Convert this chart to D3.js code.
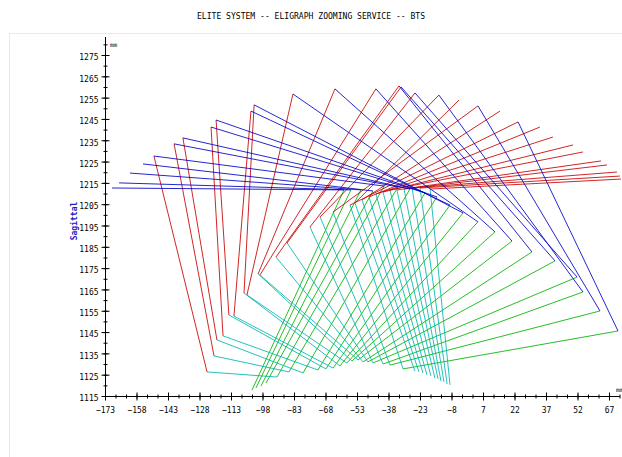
<!DOCTYPE html>
<html>
<head>
<meta charset="utf-8">
<script src="https://cdn.jsdelivr.net/npm/d3@7/dist/d3.min.js"></script>
<style>
  body { margin: 0; background: #fff; }
  text { font-family: 'DejaVu Sans Mono', monospace; }
</style>
</head>
<body>
<div id="chart"></div>
<script>
// marker positions per frame, in mm (x, sagittal y); null = marker lost in that frame
const markerA = [
  [-169.7, 1212.6], [-166.3, 1215.0], [-161.1, 1219.6], [-154.9, 1223.9],
  [-149.7, 1227.6], [-140.1, 1233.3], [-135.9, 1236.1], [-122.5, 1241.2],
  [-120.1, 1244.5], [-103.5, 1248.7], [-102.0, 1251.6], [-83.5, 1256.7],
  [-63.5, 1259.1], [-44.0, 1259.1], [-33.0, 1260.5], [-32.0, 1260.0],
  [-25.4, 1257.2], [-14.0, 1256.2], [4.6, 1251.1], [23.7, 1243.6],
  [-4.4, 1253.9], [15.1, 1248.7], [34.1, 1241.2], [40.3, 1236.5],
  [49.9, 1232.8], [54.6, 1229.5], [63.2, 1225.3], [66.0, 1223.4],
  [70.8, 1220.1], [72.2, 1218.2], [72.7, 1216.8],
];
const markerR = [
  null, null, null, null,
  [-124.4, 1126.3], [-121.1, 1133.8], [-119.7, 1141.3], [-116.8, 1143.2],
  [-114.0, 1153.0], [-111.6, 1152.5], [-106.8, 1163.3], [-105.4, 1162.4],
  [-100.1, 1172.3], [-99.2, 1171.8], [-91.6, 1180.2], [-86.3, 1186.8],
  [-75.4, 1194.3], [-70.6, 1199.0], [-64.4, 1201.3], [-56.3, 1204.6],
  [-54.0, 1205.6], [-50.6, 1207.0], [-47.3, 1208.4], [-44.0, 1209.8],
  [-40.6, 1210.7], [-37.3, 1211.7], [-34.0, 1211.7], [-30.6, 1212.1],
  [-26.8, 1212.6], [-23.0, 1212.6], [-18.2, 1212.1],
];
const markerZ = [
  [-59.2, 1211.7], [-55.9, 1211.7], [-51.1, 1211.7], [-45.4, 1211.2],
  [-40.1, 1213.5], [-33.5, 1213.1], [-27.8, 1212.1], [-20.6, 1210.3],
  [-14.9, 1208.4], [-8.7, 1204.6], [-2.5, 1200.9], [4.6, 1196.7],
  [12.7, 1192.0], [20.8, 1187.7], [30.3, 1182.6], [41.3, 1178.4],
  [51.8, 1170.8], [54.6, 1163.8], [62.7, 1154.9], [71.3, 1145.5],
  null, null, null, null, null, null, null, null, null, null, null,
];
const markerY = [
  [-103.0, 1117.8], [-101.1, 1118.8], [-98.7, 1119.7], [-96.3, 1121.1],
  [-91.1, 1123.9], [-85.4, 1126.3], [-78.7, 1125.8], [-71.6, 1127.2],
  [-67.8, 1127.7], [-64.4, 1128.1], [-61.1, 1129.1], [-57.8, 1130.5],
  [-55.4, 1131.4], [-52.5, 1131.9], [-50.1, 1131.0], [-47.8, 1131.0],
  [-45.4, 1130.5], [-40.6, 1130.0], [-37.3, 1129.5], [-31.1, 1127.7],
  [-25.4, 1126.7], [-23.5, 1126.3], [-21.6, 1125.8], [-19.7, 1124.9],
  [-17.8, 1124.4], [-15.9, 1123.4], [-14.4, 1123.0], [-13.0, 1122.0],
  [-11.6, 1121.6], [-10.1, 1120.6], [-8.7, 1120.2],
];

const xTicks = [-173, -158, -143, -128, -113, -98, -83, -68, -53, -38, -23, -8, 7, 22, 37, 52, 67];
const yTicks = [1115, 1125, 1135, 1145, 1155, 1165, 1175, 1185, 1195, 1205,
  1215, 1225, 1235, 1245, 1255, 1265, 1275];

// segment colours: A-R red, A-Z blue, Z-Y green, R-Y cyan
const segColors = {
  green: '#00b400', cyan: '#00b4b4', red: '#c80000', blue: '#0000c8',
};

const width = 622;
const height = 457;

const svg = d3.select('#chart')
  .append('svg')
  .attr('width', width)
  .attr('height', height);

const x = d3.scaleLinear().domain([-173, 67]).range([105, 609]);
const y = d3.scaleLinear().domain([1115, 1275]).range([396, 55]);

// yellow frame
svg.append('rect')
  .attr('x', 9.5).attr('y', 33.5)
  .attr('width', 700).attr('height', 500)
  .attr('fill', 'none')
  .attr('stroke', '#ffff3c');

svg.append('text')
  .attr('x', 311).attr('y', 19)
  .attr('text-anchor', 'middle')
  .attr('font-size', 9)
  .attr('textLength', 228)
  .attr('lengthAdjust', 'spacingAndGlyphs')
  .text('ELITE SYSTEM -- ELIGRAPH ZOOMING SERVICE -- BTS');

// build the segment list from the markers
const segments = [];
const addSeg = (p, q, kind) => {
  if (p && q) segments.push({ p, q, kind });
};
['green', 'cyan', 'red', 'blue'].forEach((kind) => {
  markerA.forEach((a, i) => {
    if (kind === 'red') addSeg(a, markerR[i], kind);
    if (kind === 'blue') addSeg(a, markerZ[i], kind);
    if (kind === 'green') addSeg(markerZ[i], markerY[i], kind);
    if (kind === 'cyan') addSeg(markerR[i], markerY[i], kind);
  });
});

svg.append('g')
  .selectAll('line.seg')
  .data(segments)
  .enter()
  .append('line')
  .attr('class', 'seg')
  .attr('x1', (d) => x(d.p[0]))
  .attr('y1', (d) => y(d.p[1]))
  .attr('x2', (d) => x(d.q[0]))
  .attr('y2', (d) => y(d.q[1]))
  .attr('stroke', (d) => segColors[d.kind])
  .attr('stroke-opacity', 0.85)
  .attr('stroke-width', 1);

// axes
const axisG = svg.append('g').attr('stroke', '#000');
axisG.append('line')
  .attr('x1', x(-173) + 0.5).attr('x2', x(-173) + 0.5)
  .attr('y1', y(1115)).attr('y2', 37);
axisG.append('line')
  .attr('x1', x(-173)).attr('x2', 620)
  .attr('y1', y(1115) + 0.5).attr('y2', y(1115) + 0.5);

const xMinor = d3.range(-173, 73, 5);
const yMinor = d3.range(1115, 1281, 5);

const xAxis = svg.append('g')
  .attr('transform', `translate(0,${y(1115) + 0.5})`)
  .call(d3.axisBottom(x).tickValues(xMinor).tickSize(2).tickFormat(''))
  .call((g) => g.select('.domain').remove());
xAxis.selectAll('.tick line').attr('y1', -2);

const xMajor = svg.append('g')
  .attr('transform', `translate(0,${y(1115) + 0.5})`)
  .call(d3.axisBottom(x).tickValues(xTicks).tickSize(4).tickPadding(6)
    .tickFormat(d3.format('d')))
  .call((g) => g.select('.domain').remove());
xMajor.selectAll('.tick line').attr('y1', -4);
xMajor.selectAll('.tick text')
  .attr('font-family', 'DejaVu Sans Mono, monospace')
  .attr('font-size', 9)
  .attr('fill', '#000')
  .attr('textLength', (d) => String(d).length * 4.8)
  .attr('lengthAdjust', 'spacingAndGlyphs');

const yAxis = svg.append('g')
  .attr('transform', `translate(${x(-173) + 0.5},0)`)
  .call(d3.axisLeft(y).tickValues(yMinor).tickSize(2).tickFormat(''))
  .call((g) => g.select('.domain').remove());
yAxis.selectAll('.tick line').attr('x1', 2);

const yMajor = svg.append('g')
  .attr('transform', `translate(${x(-173) + 0.5},0)`)
  .call(d3.axisLeft(y).tickValues(yTicks).tickSize(4).tickPadding(3)
    .tickFormat(d3.format('d')))
  .call((g) => g.select('.domain').remove());
yMajor.selectAll('.tick line').attr('x1', 4);
yMajor.selectAll('.tick text')
  .attr('font-family', 'DejaVu Sans Mono, monospace')
  .attr('font-size', 9)
  .attr('fill', '#000')
  .attr('dy', '0.75em')
  .attr('y', -2)
  .attr('textLength', (d) => String(d).length * 4.8)
  .attr('lengthAdjust', 'spacingAndGlyphs');

// unit labels
svg.append('text')
  .attr('x', 110).attr('y', 47)
  .attr('font-size', 6)
  .text('mm');
svg.append('text')
  .attr('x', 616).attr('y', 392)
  .attr('font-size', 6)
  .text('mm');

svg.append('text')
  .attr('transform', 'translate(77,221) rotate(-90)')
  .attr('text-anchor', 'middle')
  .attr('font-family', 'DejaVu Sans, sans-serif')
  .attr('font-size', 8)
  .attr('font-weight', 'bold')
  .attr('fill', '#2020c0')
  .text('Sagittal');
</script>
</body>
</html>
